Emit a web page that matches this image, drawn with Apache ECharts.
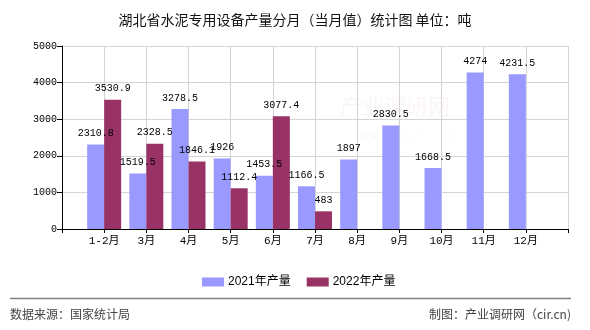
<!DOCTYPE html>
<html>
<head>
<meta charset="utf-8">
<script src="https://cdn.jsdelivr.net/npm/echarts@6/dist/echarts.min.js"></script>
<style>html,body{margin:0;padding:0;background:#fff;}#c{width:590px;height:330px;}</style>
</head>
<body>
<div id="c"></div>
<script>
const months = ['1-2月','3月','4月','5月','6月','7月','8月','9月','10月','11月','12月'];
const s2021 = [2310.8, 1519.5, 3278.5, 1926, 1453.5, 1166.5, 1897, 2830.5, 1668.5, 4274, 4231.5];
const s2022 = [3530.9, 2328.5, 1846.1, 1112.4, 3077.4, 483];
const seriesNames = ['2021年产量', '2022年产量'];
const yTicks = [0, 1000, 2000, 3000, 4000, 5000];

const cats = [''].concat(months, ['']);
const d2021 = [null].concat(s2021, [null]);
const d2022 = [null].concat(s2022);
const numFont = "'Liberation Mono','Noto Sans CJK SC',monospace";
const cjk = "'Noto Sans CJK SC','Noto Sans',sans-serif";

const chart = echarts.init(document.getElementById('c'), null, {renderer: 'canvas'});
chart.setOption({
  backgroundColor: '#ffffff',
  animation: false,
  title: {
    text: '湖北省水泥专用设备产量分月（当月值）统计图 单位：吨',
    left: 'center', top: 8,
    textStyle: {fontFamily: cjk, fontSize: 14, fontWeight: 'normal', color: '#111'}
  },
  legend: {
    data: seriesNames,
    left: 197, top: 271,
    itemWidth: 22, itemHeight: 9, itemGap: 16,
    icon: 'rect',
    textStyle: {fontFamily: "'Liberation Sans','Noto Sans CJK SC',sans-serif", fontSize: 12, color: '#000', padding: [0,0,0,-1]}
  },
  grid: {left: 62, right: 22, top: 46, bottom: 101, containLabel: false},
  xAxis: {
    type: 'category',
    data: cats,
    boundaryGap: false,
    axisLine: {lineStyle: {color: '#000', width: 1}},
    axisTick: {show: true, length: 4, lineStyle: {color: '#000'}},
    axisLabel: {fontFamily: numFont, fontSize: 11, color: '#000', margin: 7, interval: 0},
    splitLine: {show: true, lineStyle: {color: '#d4d4d4', width: 1}}
  },
  yAxis: {
    type: 'value',
    min: yTicks[0], max: yTicks[yTicks.length - 1], interval: 1000,
    axisLine: {show: true, lineStyle: {color: '#000', width: 1}},
    axisTick: {show: true, length: 5, lineStyle: {color: '#000'}},
    axisLabel: {fontFamily: numFont, fontSize: 10, color: '#000', margin: 5, formatter: function (v) { return String(v); }},
    splitLine: {show: true, lineStyle: {color: '#d4d4d4', width: 1}}
  },
  series: [
    {
      name: seriesNames[0], type: 'bar', data: d2021,
      barWidth: 17, barGap: '0%',
      itemStyle: {color: '#9999ff'},
      label: {show: true, position: 'top', distance: 6, fontFamily: numFont, fontSize: 10, color: '#000'}
    },
    {
      name: seriesNames[1], type: 'bar', data: d2022,
      barWidth: 17, barGap: '0%',
      itemStyle: {color: '#993366'},
      label: {show: true, position: 'top', distance: 6, fontFamily: numFont, fontSize: 10, color: '#000'}
    }
  ],
  graphic: [
    {type: 'text', left: 340, top: 95, z: 0, silent: true,
     style: {text: '产业调研网', fontFamily: cjk, fontSize: 22, fill: 'rgba(235,200,200,0.18)'}},
    {type: 'text', left: 362, top: 132, z: 0, silent: true,
     style: {text: 'w w w . c i r . c n', fontFamily: numFont, fontSize: 8, fill: 'rgba(235,200,200,0.22)'}},
    {type: 'line', shape: {x1: 10, y1: 298.5, x2: 571, y2: 298.5},
     style: {stroke: '#808080', lineWidth: 1.5}},
    {type: 'text', left: 10, top: 308,
     style: {text: '数据来源：国家统计局', fontFamily: cjk, fontSize: 12, fill: '#444'}},
    {type: 'text', right: 19, top: 308,
     style: {text: '制图：产业调研网（cir.cn)', fontFamily: cjk, fontSize: 12, fill: '#444'}}
  ]
});
</script>
</body>
</html>
